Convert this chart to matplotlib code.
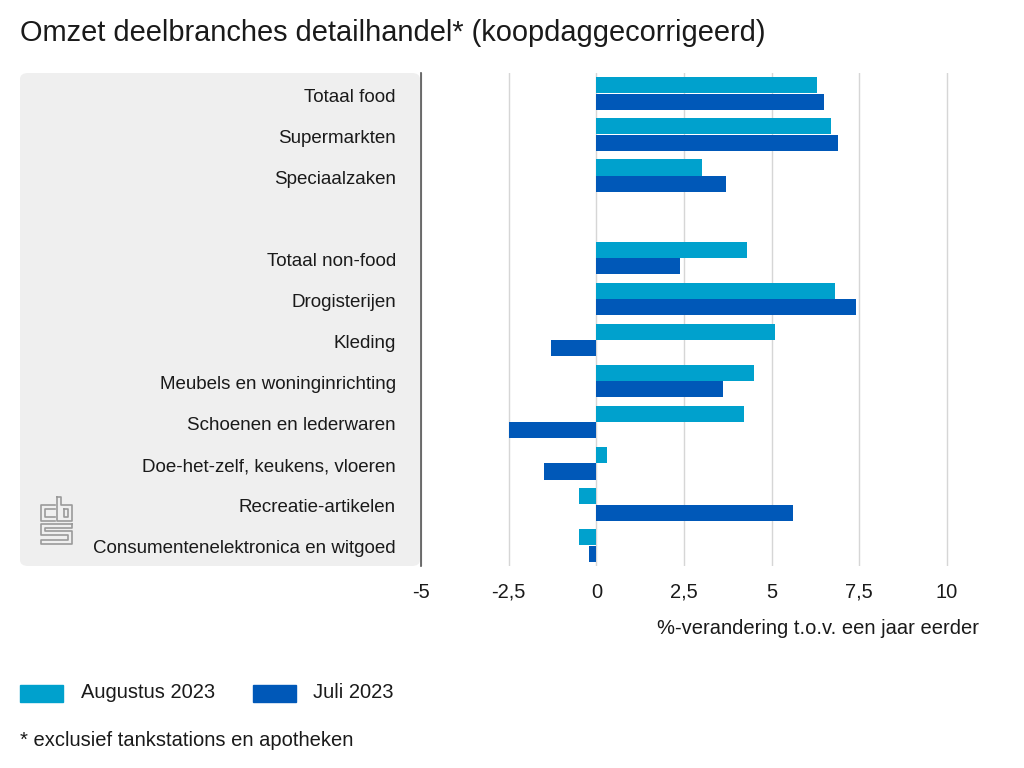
import matplotlib
matplotlib.use("Agg")
import matplotlib.pyplot as plt
from matplotlib.patches import FancyBboxPatch, Rectangle
from matplotlib.lines import Line2D
from matplotlib.transforms import ScaledTranslation

plt.rcParams['font.family'] = ['Liberation Sans', 'DejaVu Sans']

categories = ["Totaal food", "Supermarkten", "Speciaalzaken", "",
              "Totaal non-food", "Drogisterijen", "Kleding",
              "Meubels en woninginrichting", "Schoenen en lederwaren",
              "Doe-het-zelf, keukens, vloeren", "Recreatie-artikelen",
              "Consumentenelektronica en witgoed"]
aug_2023 = [6.3, 6.7, 3.0, None, 4.3, 6.8, 5.1, 4.5, 4.2, 0.3, -0.5, -0.5]
jul_2023 = [6.5, 6.9, 3.7, None, 2.4, 7.4, -1.3, 3.6, -2.5, -1.5, 5.6, -0.2]
xticks = [-5, -2.5, 0, 2.5, 5, 7.5, 10]
xtick_labels = ["-5", "-2,5", "0", "2,5", "5", "7,5", "10"]
series_names = ["Augustus 2023", "Juli 2023"]

c_aug = "#00a1cd"
c_jul = "#0058b8"
tc = "#1a1a1a"
fs = 14.5

W, H = 1024, 768
fig = plt.figure(figsize=(W/100, H/100), dpi=100)

def fx(px):
    return px / W

def fy(py):
    return 1 - py / H

# gray panel
panel = FancyBboxPatch((fx(20), fy(566)), fx(420) - fx(20), fy(73) - fy(566),
                       boxstyle="round,pad=0,rounding_size=0.008",
                       transform=fig.transFigure, facecolor="#efefef",
                       edgecolor="none", zorder=-5)
fig.patches.append(panel)

px_per_unit = (947 - 421) / 15.0
right_px = 962
ax = fig.add_axes([fx(421), fy(566), fx(right_px) - fx(421), fy(73) - fy(566)])
ax.set_facecolor("none")
ax.set_zorder(1)

ypos = list(range(len(categories)))
bh = 0.39
for i, (a, j) in enumerate(zip(aug_2023, jul_2023)):
    if a is not None:
        ax.barh(i - 0.2, a, height=bh, color=c_aug, zorder=3)
    if j is not None:
        ax.barh(i + 0.2, j, height=bh, color=c_jul, zorder=3)

ax.set_xlim(-5, -5 + (right_px - 421) / px_per_unit)
ax.set_ylim(len(categories) - 0.5, -0.5)
ax.set_xticks(xticks)
ax.set_xticklabels(xtick_labels)
ax.set_yticks(ypos)
ax.set_yticklabels([])

# category labels, right aligned in the grey panel
lab_tr = ax.get_yaxis_transform() + ScaledTranslation(-25 / 100, -3.5 / 100, fig.dpi_scale_trans)
for i, name in enumerate(categories):
    ax.text(0, i, name, transform=lab_tr, ha="right", va="center",
            fontsize=13.5, color=tc, clip_on=False)

ax.grid(axis='x', color="#d6d6d6", linewidth=1, zorder=0)
ax.set_axisbelow(True)
for s in ["top", "right", "bottom"]:
    ax.spines[s].set_visible(False)
ax.spines["left"].set_color("#555555")
ax.spines["left"].set_linewidth(1.2)
ax.tick_params(axis='y', length=0)
ax.tick_params(axis='x', length=0, pad=12, labelsize=fs, labelcolor=tc)

# title
fig.text(fx(20), fy(33), "Omzet deelbranches detailhandel* (koopdaggecorrigeerd)",
         fontsize=20.9, ha="left", va="center", color=tc)
# x label
fig.text(fx(979), fy(629), "%-verandering t.o.v. een jaar eerder",
         fontsize=fs, ha="right", va="center", color=tc)

# legend
fig.patches.append(Rectangle((fx(20), fy(702)), fx(43), fy(685) - fy(702),
                             transform=fig.transFigure, color=c_aug))
fig.text(fx(81), fy(693), series_names[0], fontsize=fs, ha="left", va="center", color=tc)
fig.patches.append(Rectangle((fx(253), fy(702)), fx(43), fy(685) - fy(702),
                             transform=fig.transFigure, color=c_jul))
fig.text(fx(313), fy(693), series_names[1], fontsize=fs, ha="left", va="center", color=tc)

# footnote
fig.text(fx(20), fy(741), "* exclusief tankstations en apotheken",
         fontsize=fs, ha="left", va="center", color=tc)

# simplified cbs logo
lc = "#9a9a9a"
def seg(pts):
    xs = [fx(p[0]) for p in pts]
    ys = [fy(p[1]) for p in pts]
    fig.add_artist(Line2D(xs, ys, color=lc, linewidth=1.2, transform=fig.transFigure))

# c
seg([(55, 505), (41, 505), (41, 521), (55, 521)])
seg([(55, 509), (45, 509), (45, 517), (55, 517)])
# b
seg([(57, 497), (61, 497), (61, 505), (72, 505), (72, 521), (57, 521), (57, 497)])
seg([(64, 509), (68, 509), (68, 517), (64, 517), (64, 509)])
# s
seg([(72, 524), (41, 524), (41, 535), (68, 535), (68, 540), (41, 540), (41, 544), (72, 544), (72, 531), (45, 531), (45, 528), (72, 528), (72, 524)])

fig.savefig("out.png", dpi=100)
